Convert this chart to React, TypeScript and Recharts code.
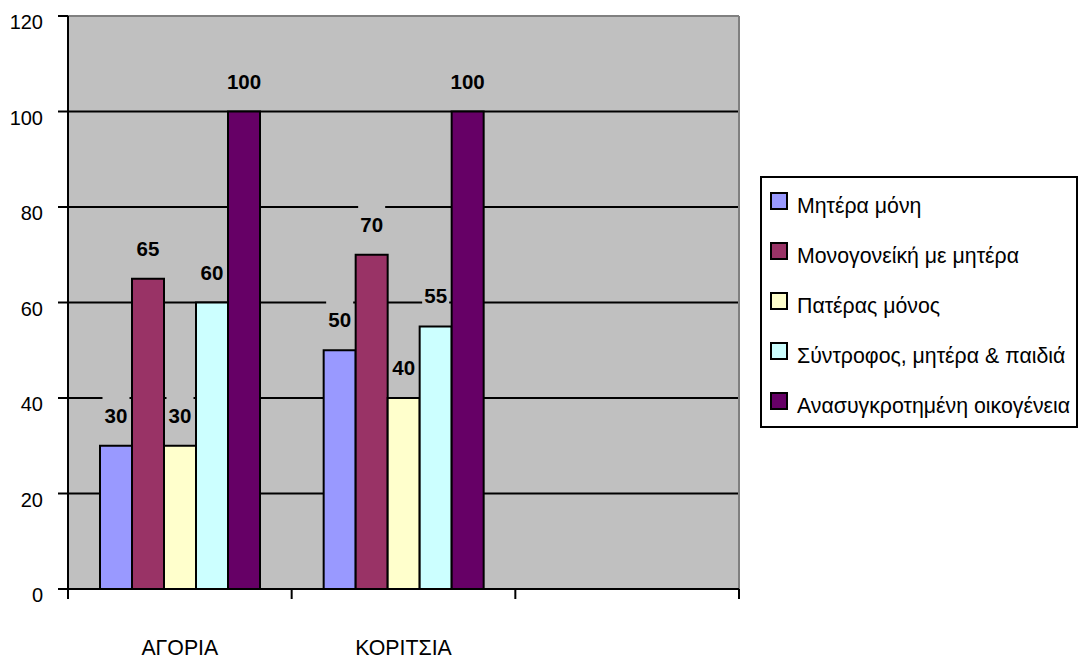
import { BarChart, Bar, XAxis, YAxis, CartesianGrid, LabelList } from 'recharts'

const categories = ['ΑΓΟΡΙΑ', 'ΚΟΡΙΤΣΙΑ', '']
const seriesNames = [
  'Μητέρα μόνη',
  'Μονογονείκή με μητέρα',
  'Πατέρας μόνος',
  'Σύντροφος, μητέρα & παιδιά',
  'Ανασυγκροτημένη οικογένεια',
]
const seriesColors = ['#9999FF', '#993366', '#FFFFCC', '#CCFFFF', '#660066']

const miteraMoni = [30, 50, null]
const monogoneiki = [65, 70, null]
const pateras = [30, 40, null]
const syntrofos = [60, 55, null]
const anasygkrotimeni = [100, 100, null]
const yTicks = [0, 20, 40, 60, 80, 100, 120]

const seriesValues = [miteraMoni, monogoneiki, pateras, syntrofos, anasygkrotimeni]
const keys = ['s0', 's1', 's2', 's3', 's4']

const data = categories.map((name, i) => {
  const row: Record<string, any> = { name }
  keys.forEach((k, j) => { row[k] = seriesValues[j][i] })
  return row
})

const FONT = 'Arial, "Liberation Sans", sans-serif'
const PLOT_BG = '#C0C0C0'

// data label with the grey box behind it (hides the gridline like Excel does)
const BarLabel = (props: any) => {
  const { x, y, width, value } = props
  if (value == null) return null
  const cx = x + width / 2
  const base = y - 23
  const w = String(value).length * 11.5 + 4
  return (
    <g>
      <rect x={cx - w / 2} y={base - 28} width={w} height={32} fill={PLOT_BG} />
      <text x={cx} y={base} textAnchor="middle" fontFamily={FONT} fontSize={20.5} fontWeight="bold" fill="#000">
        {value}
      </text>
    </g>
  )
}

const YTick = (props: any) => {
  const { x, y, payload } = props
  return (
    <text x={x - 13} y={y + 13} textAnchor="end" fontFamily={FONT} fontSize={20} fill="#000">
      {payload.value}
    </text>
  )
}

const XTick = (props: any) => {
  const { x, y, payload, index, visibleTicksCount } = props
  const half = payload.offset || 111.8
  const last = index === (visibleTicksCount ?? categories.length) - 1
  return (
    <g>
      <line x1={x - half} y1={y} x2={x - half} y2={y + 10} stroke="#000" strokeWidth={2} />
      {last && <line x1={x + half} y1={y} x2={x + half} y2={y + 10} stroke="#000" strokeWidth={2} />}
      <text x={x} y={y + 66} textAnchor="middle" fontFamily={FONT} fontSize={21.3} fill="#000">
        {payload.value}
      </text>
    </g>
  )
}

const LegendBox = () => (
  <svg width={318} height={252} style={{ position: 'absolute', left: 760, top: 176, display: 'block' }}>
    <rect x={1} y={1} width={316} height={250} fill="#fff" stroke="#000" strokeWidth={2} />
    {seriesNames.map((name, i) => {
      const c = 25 + i * 50
      return (
        <g key={name}>
          <rect x={11} y={c - 8} width={16} height={16} fill={seriesColors[i]} stroke="#000" strokeWidth={2} />
          <text x={37} y={c + 12} fontFamily={FONT} fontSize={21.3} fill="#000">{name}</text>
        </g>
      )
    })}
  </svg>
)

export default function App() {
  return (
    <div style={{ position: 'absolute', left: 0, top: 0, width: 1081, height: 660, background: '#fff' }}>
      <BarChart
        width={1081}
        height={660}
        data={data}
        margin={{ top: 16, right: 342, bottom: 0, left: 0 }}
        barCategoryGap={32}
        barGap={0}
      >
        <CartesianGrid vertical={false} fill={PLOT_BG} stroke="#000" strokeWidth={2} />
        <CartesianGrid
          horizontal
          vertical
          stroke="#808080"
          strokeWidth={2}
          horizontalCoordinatesGenerator={({ offset }: any) => [offset.top]}
          verticalCoordinatesGenerator={({ offset }: any) => [offset.left + offset.width]}
        />
        <XAxis
          dataKey="name"
          height={71}
          tickLine={false}
          tickSize={0}
          tickMargin={0}
          axisLine={{ stroke: '#000', strokeWidth: 2 }}
          tick={<XTick />}
          interval={0}
        />
        <YAxis
          width={68}
          domain={[0, 120]}
          ticks={yTicks}
          interval={0}
          tickSize={10}
          tickLine={{ stroke: '#000', strokeWidth: 2 }}
          axisLine={{ stroke: '#000', strokeWidth: 2 }}
          tick={<YTick />}
        />
        {keys.map((k, j) => (
          <Bar
            key={k}
            dataKey={k}
            name={seriesNames[j]}
            fill={seriesColors[j]}
            stroke="#000"
            strokeWidth={2}
            isAnimationActive={false}
          >
            <LabelList dataKey={k} content={<BarLabel />} />
          </Bar>
        ))}
      </BarChart>
      <LegendBox />
    </div>
  )
}
